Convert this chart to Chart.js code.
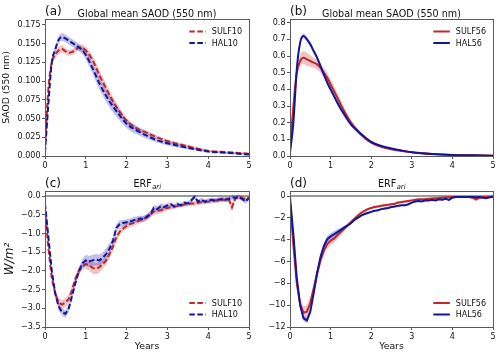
<!DOCTYPE html>
<html><head><meta charset="utf-8">
<script src="https://cdn.jsdelivr.net/npm/chart.js@4.4.1/dist/chart.umd.min.js"></script>
<style>
html,body{margin:0;padding:0;background:#fff;overflow:hidden}
#wrap{position:relative;width:500px;height:355px;background:#fff}
#wrap canvas{position:absolute;left:0;top:0}
</style></head><body>
<div id="wrap">
<canvas id="pa" width="500" height="355"></canvas>
<canvas id="pb" width="500" height="355"></canvas>
<canvas id="pc" width="500" height="355"></canvas>
<canvas id="pd" width="500" height="355"></canvas>
</div>
<script>
const FONT = "'DejaVu Sans', 'Liberation Sans', sans-serif";
const RED = '#c42727', BLUE = '#15159a';
const RED_BAND = 'rgba(205,70,70,0.32)', BLUE_BAND = 'rgba(60,60,190,0.32)';

// ---- SAOD (panels a, b) ----
const saodYears = [0,0.083,0.167,0.25,0.333,0.417,0.5,0.583,0.667,0.75,0.833,0.917,1.0,1.167,1.333,1.5,1.667,1.833,2.0,2.25,2.5,2.75,3.0,3.5,4.0,4.5,5.0];
const sulf10Saod       = [0.010,0.090,0.125,0.135,0.141,0.143,0.140,0.138,0.139,0.142,0.145,0.144,0.141,0.128,0.108,0.090,0.073,0.059,0.047,0.037,0.031,0.025,0.020,0.013,0.007,0.005,0.003];
const sulf10SaodSpread = [0.002,0.003,0.004,0.005,0.005,0.005,0.004,0.004,0.004,0.004,0.004,0.005,0.005,0.006,0.007,0.007,0.006,0.005,0.004,0.003,0.003,0.002,0.002,0.002,0.001,0.001,0.001];
const hal10Saod        = [0.005,0.070,0.125,0.142,0.155,0.159,0.157,0.154,0.151,0.148,0.145,0.141,0.135,0.117,0.097,0.080,0.066,0.054,0.043,0.034,0.027,0.021,0.017,0.011,0.006,0.004,0.002];
const hal10SaodSpread  = [0.002,0.003,0.004,0.005,0.005,0.005,0.005,0.005,0.005,0.005,0.005,0.005,0.006,0.007,0.008,0.008,0.008,0.007,0.006,0.005,0.004,0.003,0.003,0.002,0.001,0.001,0.001];
const sulf56Saod       = [0.05,0.30,0.50,0.57,0.59,0.58,0.57,0.56,0.55,0.53,0.50,0.47,0.43,0.35,0.27,0.20,0.15,0.11,0.08,0.055,0.04,0.03,0.022,0.012,0.006,0.004,0.002];
const sulf56SaodSpread = [0.01,0.02,0.03,0.035,0.04,0.04,0.035,0.03,0.03,0.03,0.03,0.03,0.03,0.025,0.02,0.02,0.015,0.01,0.008,0.006,0.005,0.004,0.003,0.002,0.001,0.001,0.001];
const hal56Saod        = [0.02,0.20,0.52,0.68,0.72,0.70,0.67,0.63,0.59,0.54,0.49,0.44,0.40,0.32,0.25,0.19,0.15,0.115,0.085,0.06,0.045,0.033,0.023,0.012,0.006,0.004,0.002];
const hal56SaodSpread  = [0.01,0.015,0.015,0.015,0.015,0.015,0.015,0.015,0.015,0.015,0.015,0.015,0.015,0.015,0.012,0.01,0.01,0.008,0.006,0.005,0.004,0.003,0.003,0.002,0.001,0.001,0.001];

// ---- ERF_ari (panels c, d), monthly ----
const erfMonths = [0,1,2,3,4,5,6,7,8,9,10,11,12,13,14,15,16,17,18,19,20,21,22,23,24,25,26,27,28,29,30,31,32,33,34,35,36,37,38,39,40,41,42,43,44,45,46,47,48,49,50,51,52,53,54,55,56,57,58,59,60];
const sulf10Erf = [-0.35,-1.4,-2.2,-2.6,-2.85,-2.9,-2.85,-2.75,-2.5,-2.2,-2.0,-1.88,
  -1.82,-1.85,-1.92,-1.95,-1.9,-1.82,-1.72,-1.55,-1.35,-1.1,-0.95,-0.87,
  -0.8,-0.75,-0.72,-0.68,-0.65,-0.6,-0.57,-0.5,-0.42,-0.4,-0.38,-0.35,
  -0.32,-0.3,-0.28,-0.27,-0.25,-0.23,-0.22,-0.2,-0.2,-0.18,-0.17,-0.16,
  -0.15,-0.14,-0.12,-0.12,-0.1,-0.1,-0.08,-0.3,-0.05,-0.02,-0.05,-0.08,-0.05];
const sulf10ErfSpread = [0.05,0.1,0.12,0.12,0.12,0.12,0.12,0.12,0.12,0.1,0.1,0.1,
  0.12,0.15,0.15,0.15,0.15,0.12,0.12,0.1,0.1,0.1,0.08,0.08,
  0.08,0.08,0.08,0.08,0.08,0.08,0.08,0.08,0.08,0.08,0.08,0.08,
  0.06,0.06,0.06,0.06,0.06,0.06,0.06,0.06,0.06,0.06,0.06,0.06,
  0.06,0.06,0.06,0.06,0.06,0.06,0.08,0.12,0.08,0.06,0.06,0.06,0.06];
const hal10Erf = [-0.2,-1.1,-2.0,-2.6,-2.95,-3.1,-3.15,-3.0,-2.65,-2.3,-2.0,-1.8,
  -1.72,-1.75,-1.72,-1.7,-1.72,-1.65,-1.55,-1.4,-1.2,-0.85,-0.75,-0.72,
  -0.7,-0.68,-0.65,-0.62,-0.6,-0.62,-0.55,-0.48,-0.32,-0.35,-0.28,-0.3,
  -0.25,-0.22,-0.28,-0.22,-0.25,-0.18,-0.2,-0.12,-0.02,-0.15,-0.1,-0.15,
  -0.12,-0.1,-0.12,-0.1,-0.08,-0.1,-0.08,-0.03,-0.05,-0.02,-0.08,-0.15,-0.05];
const hal10ErfSpread = [0.05,0.1,0.1,0.1,0.1,0.1,0.1,0.1,0.1,0.1,0.1,0.12,
  0.15,0.15,0.15,0.15,0.15,0.15,0.15,0.15,0.12,0.1,0.1,0.08,
  0.08,0.08,0.08,0.08,0.08,0.08,0.08,0.08,0.08,0.08,0.08,0.08,
  0.06,0.06,0.06,0.06,0.06,0.06,0.06,0.06,0.06,0.06,0.06,0.06,
  0.06,0.06,0.06,0.06,0.06,0.06,0.06,0.06,0.06,0.06,0.06,0.06,0.06];
const sulf56Erf = [-0.6,-4.5,-8.0,-9.9,-10.7,-10.6,-9.8,-8.5,-7.1,-5.9,-5.0,-4.4,
  -4.1,-3.9,-3.6,-3.3,-3.0,-2.7,-2.4,-2.1,-1.8,-1.55,-1.35,-1.2,
  -1.1,-1.0,-0.95,-0.9,-0.85,-0.8,-0.75,-0.7,-0.6,-0.55,-0.5,-0.45,
  -0.4,-0.35,-0.3,-0.3,-0.28,-0.25,-0.22,-0.2,-0.18,-0.15,-0.12,-0.12,
  -0.1,-0.1,-0.08,-0.08,-0.08,-0.1,-0.15,-0.3,-0.15,-0.1,-0.08,-0.08,-0.05];
const sulf56ErfSpread = [0.3,0.4,0.5,0.5,0.6,0.6,0.6,0.5,0.5,0.45,0.45,0.4,
  0.4,0.4,0.35,0.3,0.25,0.2,0.2,0.15,0.15,0.15,0.12,0.12,
  0.1,0.1,0.1,0.1,0.1,0.1,0.1,0.1,0.1,0.1,0.1,0.1,
  0.08,0.08,0.08,0.08,0.08,0.08,0.08,0.08,0.08,0.08,0.08,0.08,
  0.08,0.08,0.08,0.08,0.08,0.1,0.15,0.2,0.15,0.08,0.08,0.08,0.08];
const hal56Erf = [-0.1,-3.5,-7.5,-10.0,-11.2,-11.4,-10.6,-8.9,-7.1,-5.6,-4.6,-3.95,
  -3.7,-3.5,-3.3,-3.1,-2.9,-2.7,-2.5,-2.2,-2.0,-1.8,-1.65,-1.55,
  -1.45,-1.35,-1.3,-1.2,-1.15,-1.1,-1.0,-0.95,-0.9,-0.85,-0.85,-0.75,
  -0.6,-0.5,-0.45,-0.5,-0.4,-0.4,-0.35,-0.4,-0.3,-0.35,-0.25,-0.35,
  -0.15,-0.1,-0.1,-0.1,-0.1,-0.1,-0.1,-0.12,-0.1,-0.15,-0.2,-0.12,-0.1];
const hal56ErfSpread = [0.2,0.3,0.3,0.3,0.25,0.25,0.25,0.25,0.25,0.3,0.3,0.3,
  0.3,0.3,0.25,0.2,0.15,0.12,0.1,0.1,0.1,0.1,0.1,0.1,
  0.08,0.08,0.08,0.08,0.08,0.08,0.08,0.08,0.08,0.08,0.08,0.08,
  0.08,0.08,0.08,0.08,0.08,0.08,0.08,0.08,0.08,0.08,0.08,0.08,
  0.06,0.06,0.06,0.06,0.06,0.06,0.06,0.06,0.06,0.06,0.06,0.06,0.06];

// ---- tick labels ----
const xTicks = [0,1,2,3,4,5];
const saod10Ticks = [0,0.025,0.05,0.075,0.1,0.125,0.15,0.175];
const saod56Ticks = [0,0.1,0.2,0.3,0.4,0.5,0.6,0.7,0.8];
const erf10Ticks = [-3.5,-3,-2.5,-2,-1.5,-1,-0.5,0];
const erf56Ticks = [-12,-10,-8,-6,-4,-2,0];
const zeroLine = [0,0];

const erfYears = erfMonths.map(m => m / 12);

function pts(xs, ys){ return xs.map((x,i)=>({x:x, y:ys[i]})); }
function series(label, xs, ys, sp, color, band, dashed, smooth){
  const interp = smooth ? 'monotone' : 'default';
  return [
    {label:label, data:pts(xs,ys), borderColor:color, borderWidth:2, borderDash: dashed?[5.5,2.5]:[],
     pointRadius:0, fill:false, tension:0, cubicInterpolationMode:interp},
    {label:'', data:xs.map((x,i)=>({x:x, y:ys[i]+sp[i]})), borderColor:'rgba(0,0,0,0)', borderWidth:1,
     pointRadius:0, fill:'+1', backgroundColor:band, tension:0, cubicInterpolationMode:interp},
    {label:'', data:xs.map((x,i)=>({x:x, y:ys[i]-sp[i]})), borderColor:'rgba(0,0,0,0)', borderWidth:1,
     pointRadius:0, fill:false, tension:0, cubicInterpolationMode:interp}
  ];
}
function zeroSet(){
  return {label:'', data:pts([0,5], zeroLine), borderColor:'#7a7a7a', borderWidth:1.3, pointRadius:0, fill:false};
}
const minus = v => (v < 0 ? '\u2212' : '');

function makePanel(id, p){
  const deco = {
    id:'deco'+id,
    afterDraw(chart){
      const ctx = chart.ctx, a = chart.chartArea;
      ctx.save();
      // frame
      ctx.strokeStyle = '#5a5a5a'; ctx.lineWidth = 1;
      ctx.strokeRect(Math.round(a.left)+0.5, Math.round(a.top)+0.5, Math.round(a.right-a.left), Math.round(a.bottom-a.top));
      // panel letter
      ctx.fillStyle = '#111';
      ctx.textAlign = 'left'; ctx.textBaseline = 'alphabetic';
      ctx.font = '12px ' + FONT;
      ctx.fillText(p.letter, a.left, a.top - 4);
      // title
      const cx = (a.left + a.right) / 2;
      if (p.sub) {
        ctx.font = '9.6px ' + FONT;
        const w1 = ctx.measureText(p.title).width;
        ctx.font = 'italic 6.8px ' + FONT;
        const w2 = ctx.measureText(p.sub).width;
        const x0 = cx - (w1 + w2) / 2;
        ctx.font = '9.6px ' + FONT;
        ctx.fillText(p.title, x0, a.top - 4);
        ctx.font = 'italic 6.8px ' + FONT;
        ctx.fillText(p.sub, x0 + w1 + 0.5, a.top - 1.8);
      } else {
        ctx.font = '9.6px ' + FONT; ctx.textAlign = 'center';
        ctx.fillText(p.title, cx, a.top - 2);
      }
      // legend
      ctx.font = '8px ' + FONT; ctx.textAlign = 'left'; ctx.textBaseline = 'middle';
      const maxW = Math.max(...p.legend.map(e => ctx.measureText(e.text).width));
      const tx = a.right - 7 - maxW;
      p.legend.forEach((e, i) => {
        const y = p.legendTop ? a.top + 12.5 + i * 11.5 : a.bottom - 24 + i * 11.5;
        ctx.strokeStyle = e.color; ctx.lineWidth = 2;
        ctx.setLineDash(e.dashed ? [5.5,2.5] : []);
        ctx.beginPath(); ctx.moveTo(tx - 22.5, y); ctx.lineTo(tx - 6, y); ctx.stroke();
        ctx.setLineDash([]);
        ctx.fillStyle = '#111';
        ctx.fillText(e.text, tx, y + 0.5);
      });
      ctx.restore();
    }
  };
  return new Chart(document.getElementById(id), {
    type:'line',
    data:{datasets:p.datasets},
    options:{
      responsive:false, animation:false, events:[],
      layout:{padding:{left:p.L - p.yw, top:p.T, right:500 - p.R, bottom:355 - p.B - p.xh}},
      plugins:{legend:{display:false}, tooltip:{enabled:false}, title:{display:false}},
      scales:{
        x:{
          type:'linear', min:0, max:5,
          afterFit: s => { s.height = p.xh; },
          afterBuildTicks: s => { s.ticks = xTicks.map(v => ({value:v})); },
          grid:{drawOnChartArea:false, drawTicks:true, tickLength:3, color:'#5a5a5a'},
          border:{display:false},
          ticks:{font:{family:FONT, size:8}, color:'#111', padding:2, maxRotation:0, autoSkip:false,
                 callback: v => String(v)},
          title:{display:!!p.xlabel, text:p.xlabel || '', font:{family:FONT, size:9.3}, color:'#111', padding:{top:0, bottom:3}}
        },
        y:{
          type:'linear', min:p.ymin, max:p.ymax,
          afterFit: s => { s.width = p.yw; },
          afterBuildTicks: s => { s.ticks = p.yticks.map(v => ({value:v})); },
          grid:{drawOnChartArea:false, drawTicks:true, tickLength:3, color:'#5a5a5a'},
          border:{display:false},
          ticks:{font:{family:FONT, size:8}, color:'#111', padding:1.5, autoSkip:false, callback:p.fmt},
          title:{display:!!p.ylabel, text:p.ylabel || '', font:p.ylabelFont || {family:FONT, size:9.3}, color:'#111', padding:{top:p.ylabelPad || 1.5, bottom:0}}
        }
      }
    },
    plugins:[deco]
  });
}

makePanel('pa', {
  L:45, R:249, T:19, B:156, yw:45, xh:14, ymin:0, ymax:0.183, yticks:saod10Ticks,
  fmt: v => v.toFixed(3), ylabel:'SAOD (550 nm)',
  letter:'(a)', title:'Global mean SAOD (550 nm)', legendTop:true,
  legend:[{text:'SULF10', color:RED, dashed:true},{text:'HAL10', color:BLUE, dashed:true}],
  datasets:[
    ...series('HAL10', saodYears, hal10Saod, hal10SaodSpread, BLUE, BLUE_BAND, true, true),
    ...series('SULF10', saodYears, sulf10Saod, sulf10SaodSpread, RED, RED_BAND, true, true)
  ]
});
makePanel('pb', {
  L:290, R:493, T:19, B:156, yw:40, xh:14, ymin:0, ymax:0.822, yticks:saod56Ticks,
  fmt: v => v.toFixed(1),
  letter:'(b)', title:'Global mean SAOD (550 nm)', legendTop:true,
  legend:[{text:'SULF56', color:RED, dashed:false},{text:'HAL56', color:BLUE, dashed:false}],
  datasets:[
    ...series('HAL56', saodYears, hal56Saod, hal56SaodSpread, BLUE, BLUE_BAND, false, true),
    ...series('SULF56', saodYears, sulf56Saod, sulf56SaodSpread, RED, RED_BAND, false, true)
  ]
});
makePanel('pc', {
  L:45, R:249, T:191, B:327, yw:45, xh:28, ymin:-3.5, ymax:0.134, yticks:erf10Ticks,
  fmt: v => minus(v) + Math.abs(v).toFixed(1), ylabel:'W/m\u00b2',
  ylabelFont:{family:FONT, size:12, style:'italic'}, ylabelPad:3, xlabel:'Years',
  letter:'(c)', title:'ERF', sub:'ari', legendTop:false,
  legend:[{text:'SULF10', color:RED, dashed:true},{text:'HAL10', color:BLUE, dashed:true}],
  datasets:[
    ...series('HAL10', erfYears, hal10Erf, hal10ErfSpread, BLUE, BLUE_BAND, true, false),
    ...series('SULF10', erfYears, sulf10Erf, sulf10ErfSpread, RED, RED_BAND, true, false),
    zeroSet()
  ]
});
makePanel('pd', {
  L:290, R:493, T:191, B:327, yw:40, xh:28, ymin:-12, ymax:0.46, yticks:erf56Ticks,
  fmt: v => minus(v) + Math.abs(v).toFixed(0), xlabel:'Years',
  letter:'(d)', title:'ERF', sub:'ari', legendTop:false,
  legend:[{text:'SULF56', color:RED, dashed:false},{text:'HAL56', color:BLUE, dashed:false}],
  datasets:[
    ...series('HAL56', erfYears, hal56Erf, hal56ErfSpread, BLUE, BLUE_BAND, false, false),
    ...series('SULF56', erfYears, sulf56Erf, sulf56ErfSpread, RED, RED_BAND, false, false),
    zeroSet()
  ]
});
</script></body></html>
